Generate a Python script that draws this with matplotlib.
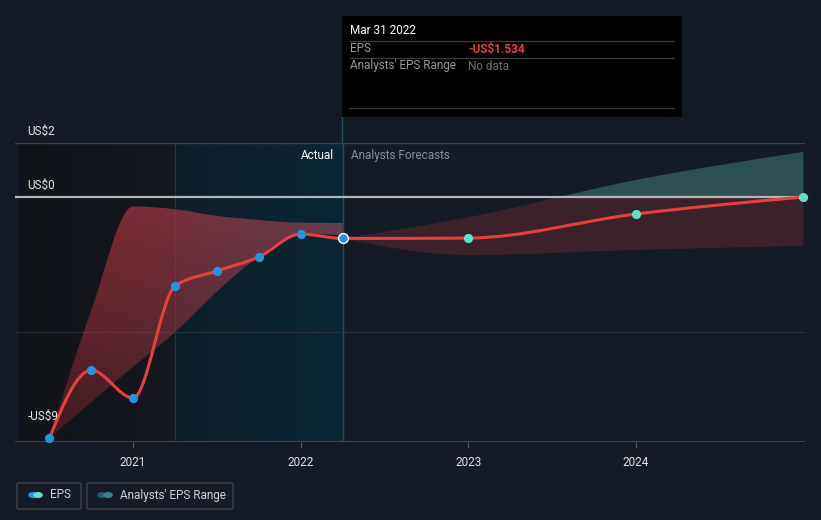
import numpy as np
import matplotlib
matplotlib.use("Agg")
import matplotlib.pyplot as plt
from matplotlib.path import Path
from matplotlib.patches import PathPatch, Rectangle, FancyBboxPatch, Circle
from matplotlib.lines import Line2D

plt.rcParams['font.family'] = ['Roboto', 'DejaVu Sans']

# data (EPS in US$)
actual_dates = [2020.5, 2020.75, 2021.0, 2021.25, 2021.5, 2021.75, 2022.0, 2022.25]
actual_eps = [-8.93, -6.41, -7.44, -3.30, -2.74, -2.22, -1.37, -1.534]
past_hi = [-8.93, -4.2, -0.35, -0.45, -0.7, -0.85, -0.95, -0.96]
past_lo = [-8.93, -7.6, -6.28, -5.0, -3.5, -2.2, -1.35, -1.42]

fc_dates = [2022.25, 2023.0, 2024.0, 2025.0]
fc_eps = [-1.534, -1.52, -0.63, 0.0]
fc_hi = [-1.534, -0.75, 0.63, 1.67]
fc_lo = [-1.534, -2.15, -1.96, -1.81]

year_ticks = [2021, 2022, 2023, 2024]
y_labels = {2: "US$2", 0: "US$0", -9: "-US$9"}

BG = "#151b26"
RED = "#e8403f"
BLUE = "#2394df"
TEAL = "#5fe0c8"


def smooth_verts(xs, ys):
    # monotone-x cubic pieces (like d3.curveMonotoneX)
    x = np.asarray(xs, float)
    y = np.asarray(ys, float)
    n = len(x)
    h = np.diff(x)
    s = np.diff(y) / h
    t = np.zeros(n)
    for i in range(1, n - 1):
        p = (s[i - 1] * h[i] + s[i] * h[i - 1]) / (h[i - 1] + h[i])
        t[i] = (np.sign(s[i - 1]) + np.sign(s[i])) * min(abs(s[i - 1]), abs(s[i]), 0.5 * abs(p))
    t[0] = (3 * s[0] - t[1]) / 2 if n > 2 else s[0]
    t[-1] = (3 * s[-1] - t[-2]) / 2 if n > 2 else s[-1]
    if h[0] < 0:
        pass
    verts = [(x[0], y[0])]
    codes = [Path.MOVETO]
    for i in range(n - 1):
        dx = (x[i + 1] - x[i]) / 3
        verts += [(x[i] + dx, y[i] + dx * t[i]),
                  (x[i + 1] - dx, y[i + 1] - dx * t[i + 1]),
                  (x[i + 1], y[i + 1])]
        codes += [Path.CURVE4] * 3
    return verts, codes


def band_path(xs, hi, lo):
    v1, c1 = smooth_verts(xs, hi)
    v2, c2 = smooth_verts(xs, lo)
    # reverse the lower curve
    v2r = v2[::-1]
    c2r = [Path.LINETO] + [Path.CURVE4] * (len(v2) - 1)
    return Path(v1 + v2r + [v1[0]], c1 + c2r + [Path.CLOSEPOLY])


fig = plt.figure(figsize=(8.21, 5.2), dpi=100)
fig.patch.set_facecolor(BG)

x0, x1 = 15 / 821, 805 / 821
ax = fig.add_axes([x0, 78 / 520, x1 - x0, 299 / 520])
ax.set_facecolor(BG)
ax.set_xlim(2020.295, 2025.01)
ax.set_ylim(-9.07, 2.0)
for sp in ax.spines.values():
    sp.set_visible(False)

# shaded backgrounds for past
g = np.linspace(0, 1, 64).reshape(1, -1)
dark = np.zeros((1, 64, 3))
dark[..., 0] = 0.063 + 0.02 * g
dark[..., 1] = 0.074 + 0.022 * g
dark[..., 2] = 0.094 + 0.03 * g
ax.imshow(dark, extent=[2020.32, 2021.25, -9.07, 2.0], aspect='auto', zorder=0)
hl = np.zeros((1, 64, 3))
hl[..., 0] = 0.055 - 0.015 * g
hl[..., 1] = 0.12 + 0.03 * g
hl[..., 2] = 0.16 + 0.045 * g
ax.imshow(hl, extent=[2021.25, 2022.25, -9.07, 2.0], aspect='auto', zorder=0)
ax.axvline(2021.25, color="#1c3a46", lw=0.8, zorder=0.5)
ax.axvline(2022.25, color="#1f4f5f", lw=1.0, zorder=0.5)

# grid lines
ax.axhline(2, color="#3a404b", lw=1, zorder=1)
ax.axhline(-5, color="#2b313b", lw=0.8, zorder=1)
ax.axhline(-9.07, color="#3d434e", lw=1.5, zorder=1)

# past range with gradient
pp = band_path(actual_dates, past_hi, past_lo)
grad = np.zeros((64, 64, 4))
gy = np.linspace(1, 0, 64).reshape(-1, 1)
gx = np.linspace(0, 1, 64).reshape(1, -1)
grad[..., 0] = 0.57 + 0.0 * gx
grad[..., 1] = 0.16 + 0.12 * gx
grad[..., 2] = 0.19 + 0.15 * gx
grad[..., 3] = 0.35 + 0.55 * gy * (1 - 0.35 * gx)
im = ax.imshow(grad, extent=[2020.5, 2022.25, -8.93, -0.3], aspect='auto',
               zorder=2, origin='upper')
patch = PathPatch(pp, facecolor='none', edgecolor='none')
ax.add_patch(patch)
im.set_clip_path(patch)

# forecast range split at zero
fp = band_path(fc_dates, fc_hi, fc_lo)
above = PathPatch(fp, facecolor="#2d5152", edgecolor='none', zorder=2)
below = PathPatch(fp, facecolor="#3b2129", edgecolor='none', zorder=2)
ax.add_patch(above)
ax.add_patch(below)
r_up = Rectangle((2020, 0), 6, 10, transform=ax.transData, visible=False)
r_dn = Rectangle((2020, -20), 6, 20, transform=ax.transData, visible=False)
ax.add_patch(r_up)
ax.add_patch(r_dn)
above.set_clip_path(r_up)
below.set_clip_path(r_dn)

ax.axhline(0, color="#b5b5b8", lw=1.6, zorder=3)

# EPS line
v, c = smooth_verts(actual_dates + fc_dates[1:], actual_eps + fc_eps[1:])
ax.add_patch(PathPatch(Path(v, c), facecolor='none', edgecolor=RED, lw=2.2,
                       zorder=4, capstyle='round'))
ax.scatter(actual_dates[:-1], actual_eps[:-1], s=44, color=BLUE, zorder=5,
           linewidths=0, clip_on=False)
ax.scatter(actual_dates[-1:], actual_eps[-1:], s=50, color=BLUE, zorder=5,
           edgecolors="white", linewidths=1.0)
ax.scatter(fc_dates[1:], fc_eps[1:], s=44, color=TEAL, zorder=5,
           linewidths=0, clip_on=False)

# ticks
ax.set_yticks([])
ax.set_xticks(year_ticks)
ax.set_xticklabels([str(tk) for tk in year_ticks], color="#e0e0e0", fontsize=8.5)
ax.tick_params(axis='x', length=4, color="#555b66", pad=6)

for val, lab in y_labels.items():
    yy = val if val != -9 else -8.55
    ax.text(2020.37, yy + 0.2, lab, color="#e4e4e4", fontsize=8.5,
            va='bottom', ha='left', zorder=6)

ax.text(2022.2, 1.55, "Actual", color="white", fontsize=8.5, ha='right', va='center')
ax.text(2022.3, 1.55, "Analysts Forecasts", color="#8a8f99", fontsize=8.5,
        ha='left', va='center')

# tooltip
fig.add_artist(Line2D([342 / 821, 342 / 821], [(520 - 117) / 520, (520 - 143) / 520],
                      color="#1f4f5f", lw=1.0))
fig.add_artist(Rectangle((342 / 821, (520 - 117) / 520), 340 / 821, 101 / 520,
                         facecolor="black", edgecolor="none"))
for yy in [41, 58, 108]:
    fig.add_artist(Line2D([350 / 821, 674 / 821], [(520 - yy) / 520] * 2,
                          color="#3e3e3e", lw=0.9))
fig.text(350 / 821, (520 - 31) / 520, "Mar 31 2022", color="white", fontsize=8.5,
         va='center')
fig.text(350 / 821, (520 - 49) / 520, "EPS", color="#9a9a9a", fontsize=8.5,
         va='center')
fig.text(468 / 821, (520 - 49) / 520, "-US$1.534", color="#e8403f", fontsize=8.5,
         va='center', fontweight='bold')
fig.text(350 / 821, (520 - 66) / 520, "Analysts' EPS Range", color="#9a9a9a",
         fontsize=8.5, va='center')
fig.text(468 / 821, (520 - 66) / 520, "No data", color="#707070", fontsize=8.5,
         va='center')

# legend
for (lx, lw_) in [(17, 64), (87, 146)]:
    fig.add_artist(FancyBboxPatch((lx / 821, (520 - 509) / 520), lw_ / 821, 26 / 520,
                                  boxstyle="round,pad=0,rounding_size=0.003",
                                  facecolor="none", edgecolor="#3c414c", lw=1))
ly = (520 - 495) / 520
for cx, col in [(33, BLUE), (38, TEAL), (102, "#1f5a80"), (108, "#3e8580")]:
    fig.add_artist(Circle((cx / 821, ly), 4.8 / 821, transform=fig.transFigure,
                          facecolor=col, edgecolor='none'))
fig.text(50 / 821, ly, "EPS", color="#d0d0d0", fontsize=8.5, va='center')
fig.text(120 / 821, ly, "Analysts' EPS Range", color="#d0d0d0", fontsize=8.5,
         va='center')

fig.savefig("out.png", dpi=100, facecolor=BG)
